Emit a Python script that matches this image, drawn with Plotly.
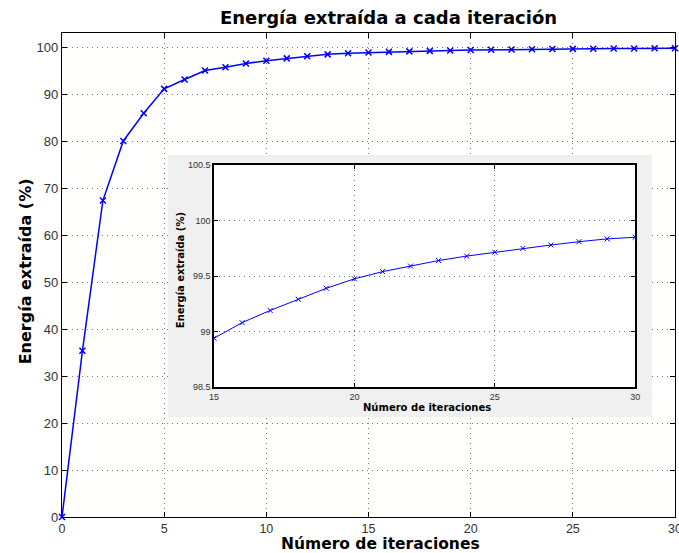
import plotly.graph_objects as go

iterations = list(range(0, 31))
energy = [0.0, 35.4, 67.4, 80.1, 86.0, 91.2, 93.2, 95.1, 95.8, 96.6, 97.2,
          97.7, 98.15, 98.55, 98.8, 98.94, 99.08, 99.19, 99.29, 99.39, 99.475,
          99.54, 99.59, 99.64, 99.68, 99.715, 99.75, 99.78, 99.81, 99.835, 99.85]

main_xticks = [0, 5, 10, 15, 20, 25, 30]
main_yticks = [0, 10, 20, 30, 40, 50, 60, 70, 80, 90, 100]
inset_xticks = [15, 20, 25, 30]
inset_yticks = [98.5, 99, 99.5, 100, 100.5]
inset_ytext = ["98.5", "99", "99.5", "100", "100.5"]

title_text = "Energía extraída a cada iteración"
xlabel = "Número de iteraciones"
ylabel = "Energía extraída (%)"

FONT = "Liberation Sans, Arial, Helvetica, sans-serif"
TFONT = "DejaVu Sans, Verdana, sans-serif"
BLUE = "#0000ff"

fig = go.Figure()
fig.add_trace(go.Scatter(
    x=iterations, y=energy, mode="lines+markers", xaxis="x", yaxis="y",
    line=dict(color=BLUE, width=1.5),
    marker=dict(symbol="x-thin", size=6, line=dict(width=1.5, color=BLUE)),
    showlegend=False, cliponaxis=False))

# grey box subplot (x2/y2) - background panel
fig.add_trace(go.Scatter(x=[None], y=[None], xaxis="x2", yaxis="y2", showlegend=False))
fig.add_shape(type="rect", xref="x2", yref="y2", x0=0, x1=1, y0=0, y1=1,
              fillcolor="#f0f0f0", line=dict(width=0), layer="below")

# inset (x3/y3)
fig.add_trace(go.Scatter(
    x=iterations, y=energy, mode="lines+markers", xaxis="x3", yaxis="y3",
    line=dict(color=BLUE, width=1),
    marker=dict(symbol="x-thin", size=5, line=dict(width=1, color=BLUE)),
    showlegend=False))
fig.add_shape(type="rect", xref="x3", yref="y3", x0=15, x1=30, y0=98.5, y1=100.5,
              fillcolor="white", line=dict(width=0), layer="below")

axis_common = dict(showline=True, linecolor="black", mirror="ticks",
                   ticks="inside", tickcolor="black", showgrid=True,
                   gridcolor="#777777", griddash="1px,4px", gridwidth=1,
                   zeroline=False, automargin=False)

fig.update_layout(
    width=679, height=553,
    margin=dict(l=62, r=4, t=33, b=36),
    paper_bgcolor="white", plot_bgcolor="#fffffe",
    font=dict(family=FONT, color="#222222"),
    xaxis=dict(domain=[0, 1], range=[0, 30], tickvals=main_xticks, ticklen=5, linewidth=1.2,
               ticklabeloverflow="allow", ticklabelstandoff=0,
               tickfont=dict(size=12.5, color="#333333"), **axis_common),
    yaxis=dict(domain=[0, 1], range=[0, 103.1], tickvals=main_yticks, ticklen=5, linewidth=1.2,
               tickfont=dict(size=13, color="#333333"), **axis_common),
    xaxis2=dict(domain=[0.173, 0.9625], range=[0, 1], visible=False, anchor="y2"),
    yaxis2=dict(domain=[0.2066, 0.748], range=[0, 1], visible=False, anchor="x2"),
    xaxis3=dict(domain=[0.248, 0.935], range=[15, 30], tickvals=inset_xticks, ticklen=4,
                anchor="y3", linewidth=1.5, tickfont=dict(size=9, color="#333333"), **axis_common),
    yaxis3=dict(domain=[0.2686, 0.727], range=[98.5, 100.5], tickvals=inset_yticks,
                ticktext=inset_ytext, ticklen=4, anchor="x3", linewidth=1.5,
                tickfont=dict(size=9, color="#333333"), **axis_common),
)

ann = [
    dict(text="<b>" + title_text + "</b>", x=0.532, y=1.033, size=18),
    dict(text="<b>" + xlabel + "</b>", x=0.519, y=-0.0565, size=15.5),
    dict(text="<b>" + xlabel + "</b>", x=0.595, y=0.227, size=10),
]
for a in ann:
    fig.add_annotation(text=a["text"], x=a["x"], y=a["y"], xref="paper", yref="paper",
                       showarrow=False, xanchor="center", yanchor="middle",
                       font=dict(size=a["size"], color="black", family=TFONT))
fig.add_annotation(text="<b>" + ylabel + "</b>", x=-0.06, y=0.508, xref="paper", yref="paper",
                   showarrow=False, textangle=-90, xanchor="center", yanchor="middle",
                   font=dict(size=16, color="black", family=TFONT))
fig.add_annotation(text="<b>" + ylabel + "</b>", x=0.1925, y=0.51, xref="paper", yref="paper",
                   showarrow=False, textangle=-90, xanchor="center", yanchor="middle",
                   font=dict(size=10, color="black", family=TFONT))

fig.write_html("out.html")
